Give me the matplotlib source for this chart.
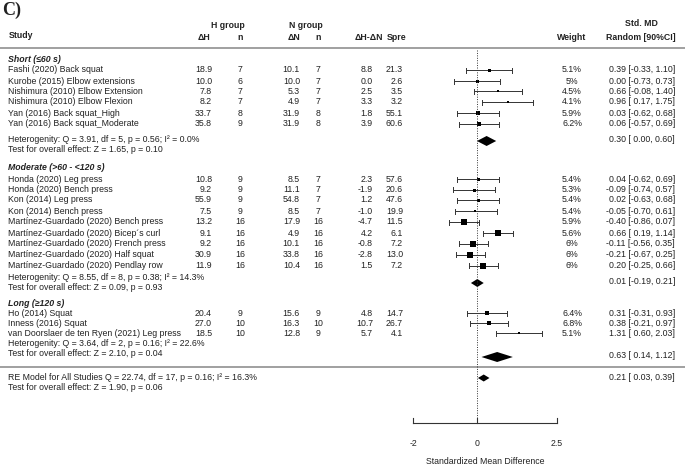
import matplotlib
matplotlib.use("Agg")
import matplotlib.pyplot as plt

plt.rcParams['font.family'] = ['Liberation Sans', 'DejaVu Sans']

# study level data
studies = ["Fashi (2020) Back squat", "Kurobe (2015) Elbow extensions",
           "Nishimura (2010) Elbow Extension", "Nishimura (2010) Elbow Flexion",
           "Yan (2016) Back squat_High", "Yan (2016) Back squat_Moderate",
           "Honda (2020) Leg press", "Honda (2020) Bench press",
           "Kon (2014) Leg press", "Kon (2014) Bench press",
           "Martínez-Guardado (2020) Bench press", "Martínez-Guardado (2020) Bicep´s curl",
           "Martínez-Guardado (2020) French press", "Martínez-Guardado (2020) Half squat",
           "Martínez-Guardado (2020) Pendlay row",
           "Ho (2014) Squat", "Inness (2016) Squat",
           "van Doorslaer de ten Ryen (2021) Leg press"]
group = [0, 0, 0, 0, 0, 0, 1, 1, 1, 1, 1, 1, 1, 1, 1, 2, 2, 2]
dH = [18.9, 10.0, 7.8, 8.2, 33.7, 35.8, 10.8, 9.2, 55.9, 7.5, 13.2, 9.1, 9.2, 30.9, 11.9, 20.4, 27.0, 18.5]
nH = [7, 6, 7, 7, 8, 9, 9, 9, 9, 9, 16, 16, 16, 16, 16, 9, 10, 10]
dN = [10.1, 10.0, 5.3, 4.9, 31.9, 31.9, 8.5, 11.1, 54.8, 8.5, 17.9, 4.9, 10.1, 33.8, 10.4, 15.6, 16.3, 12.8]
nN = [7, 7, 7, 7, 8, 8, 7, 7, 7, 7, 16, 16, 16, 16, 16, 9, 10, 9]
diff = [8.8, 0.0, 2.5, 3.3, 1.8, 3.9, 2.3, -1.9, 1.2, -1.0, -4.7, 4.2, -0.8, -2.8, 1.5, 4.8, 10.7, 5.7]
spre = [21.3, 2.6, 3.5, 3.2, 55.1, 60.6, 57.6, 20.6, 47.6, 19.9, 11.5, 6.1, 7.2, 13.0, 7.2, 14.7, 26.7, 4.1]
weight = ["5.1%", "5%", "4.5%", "4.1%", "5.9%", "6.2%", "5.4%", "5.3%", "5.4%", "5.4%",
          "5.9%", "5.6%", "6%", "6%", "6%", "6.4%", "6.8%", "5.1%"]
smd = [0.39, 0.00, 0.66, 0.96, 0.03, 0.06, 0.04, -0.09, 0.02, -0.05, -0.40, 0.66, -0.11, -0.21, 0.20, 0.31, 0.38, 1.31]
lo = [-0.33, -0.73, -0.08, 0.17, -0.62, -0.57, -0.62, -0.74, -0.63, -0.70, -0.86, 0.19, -0.56, -0.67, -0.25, -0.31, -0.21, 0.60]
hi = [1.10, 0.73, 1.40, 1.75, 0.68, 0.69, 0.69, 0.57, 0.68, 0.61, 0.07, 1.14, 0.35, 0.25, 0.66, 0.93, 0.97, 2.03]

# subgroup summaries
sub_names = ["Short (≤60 s)", "Moderate (>60 - <120 s)", "Long (≥120 s)"]
sub_smd = [0.30, 0.01, 0.63]
sub_lo = [0.00, -0.19, 0.14]
sub_hi = [0.60, 0.21, 1.12]
sub_Q = [3.91, 8.55, 3.64]
sub_df = [5, 8, 2]
sub_p = [0.56, 0.38, 0.16]
sub_I2 = [0.0, 14.3, 22.6]
sub_Z = [1.65, 0.09, 2.10]
sub_pz = [0.10, 0.93, 0.04]

# overall model
all_smd, all_lo, all_hi = 0.21, 0.03, 0.39
all_Q, all_df, all_p, all_I2 = 22.74, 17, 0.16, 16.3
all_Z, all_pz = 1.90, 0.06

xticks = [-2, 0, 2.5]

# layout (pixel rows)
W, H = 685, 467
zero_px, px_unit = 477, 32.0
study_y = [70, 81, 91, 102, 113, 124,
           179, 189.5, 200, 211, 222, 233, 243.5, 254.5, 265.5,
           313, 323, 333]
head_y = [60, 167, 303]
het_y = [139, 277, 343]
diam_y = [141, 283, 357]
diam_h = [10, 8, 10]
msize = [3, 3, 2.5, 2, 3.5, 4, 3, 3, 3, 2.5, 6, 6, 6, 6, 6, 3.3, 4, 2.5]

fs = 6.3
col = "#222222"
lcol = "#333333"

fig = plt.figure(figsize=(W / 100, H / 100), dpi=100)
tax = fig.add_axes([0, 0, 1, 1])
tax.set_xlim(0, W)
tax.set_ylim(H, 0)
tax.axis("off")
fax = fig.add_axes([0, 0, 1, 1])
fax.set_xlim(-zero_px / px_unit, (W - zero_px) / px_unit)
fax.set_ylim(H, 0)
fax.axis("off")
fax.patch.set_alpha(0)


def t(x, y, s, ha="left", **kw):
    tax.text(x, y, s, ha=ha, va="center", fontsize=kw.pop("size", fs), color=col, **kw)


def ci_txt(m, l, h):
    return f"{m:.2f} [{l:5.2f}, {h:.2f}]"


t(2, 10, "C)", size=13, fontweight="bold", family="Liberation Serif")

# header
t(228, 26, "H group", ha="center", fontweight="bold")
t(306, 26, "N group", ha="center", fontweight="bold")
t(9, 36, "Study", fontweight="bold")
t(204, 37, "ΔH", ha="center", fontweight="bold")
t(240, 37, "n", ha="center", fontweight="bold")
t(294, 37, "ΔN", ha="center", fontweight="bold")
t(318, 37, "n", ha="center", fontweight="bold")
t(369, 37, "ΔH-ΔN", ha="center", fontweight="bold")
t(387, 37, "Spre", fontweight="bold")
t(572, 37, "Weight", ha="center", fontweight="bold")
t(641, 24, "Std. MD", ha="center", fontweight="bold")
t(641, 37, "Random [90%CI]", ha="center", fontweight="bold")
tax.plot([0, W], [48, 48], color="#999999", lw=1.3)
tax.plot([0, W], [367, 367], color="#999999", lw=1.3)

# study rows
for i, name in enumerate(studies):
    y = study_y[i]
    t(8, y, name)
    t(212, y, f"{dH[i]:.1f}", ha="right")
    t(240, y, f"{nH[i]}", ha="center")
    t(300, y, f"{dN[i]:.1f}", ha="right")
    t(318, y, f"{nN[i]}", ha="center")
    t(373, y, f"{diff[i]:.1f}", ha="right")
    t(403, y, f"{spre[i]:.1f}", ha="right")
    t(572, y, weight[i], ha="center")
    t(675, y, ci_txt(smd[i], lo[i], hi[i]), ha="right")
    fax.plot([lo[i], hi[i]], [y, y], color=lcol, lw=0.7)
    fax.plot([lo[i], lo[i]], [y - 2.5, y + 2.5], color=lcol, lw=0.7)
    fax.plot([hi[i], hi[i]], [y - 2.5, y + 2.5], color=lcol, lw=0.7)
    fax.plot(smd[i], y, marker="s", ms=msize[i] * 0.72, color="black", mew=0)

# subgroups
for g in range(3):
    t(8, head_y[g], sub_names[g], fontweight="bold", fontstyle="italic")
    t(8, het_y[g], f"Heterogenity: Q = {sub_Q[g]:.2f}, df = {sub_df[g]}, p = {sub_p[g]:.2f}; I² = {sub_I2[g]:.1f}%")
    t(8, het_y[g] + 10, f"Test for overall effect: Z = {sub_Z[g]:.2f}, p = {sub_pz[g]:.2f}")
    y, h = diam_y[g], diam_h[g]
    fax.fill([sub_lo[g], sub_smd[g], sub_hi[g], sub_smd[g]], [y, y - h / 2, y, y + h / 2],
             color="black", lw=0)
    t(675, y - 1, ci_txt(sub_smd[g], sub_lo[g], sub_hi[g]), ha="right")

# overall
t(8, 377, f"RE Model for All Studies Q = {all_Q:.2f}, df = {all_df}, p = {all_p:.2f}; I² = {all_I2:.1f}%")
t(8, 388, f"Test for overall effect: Z = {all_Z:.2f}, p = {all_pz:.2f}")
fax.fill([all_lo, all_smd, all_hi, all_smd], [378, 374.5, 378, 381.5], color="black", lw=0)
t(675, 377, ci_txt(all_smd, all_lo, all_hi), ha="right")

# reference line and axis
fax.plot([0, 0], [50, 423], color=lcol, lw=0.7, ls=(0, (1, 1.5)))
fax.plot([xticks[0], xticks[-1]], [423, 423], color=lcol, lw=0.8)
for xt in xticks:
    fax.plot([xt, xt], [423, 418], color=lcol, lw=0.8)
    fax.text(xt, 443, f"{xt:g}", ha="center", va="center", fontsize=fs, color=col)
fax.text(sum(xticks[::2]) / 2, 462, "Standardized Mean Difference", ha="center", va="center",
         fontsize=fs, color=col)

fig.savefig("out.png", dpi=100)
